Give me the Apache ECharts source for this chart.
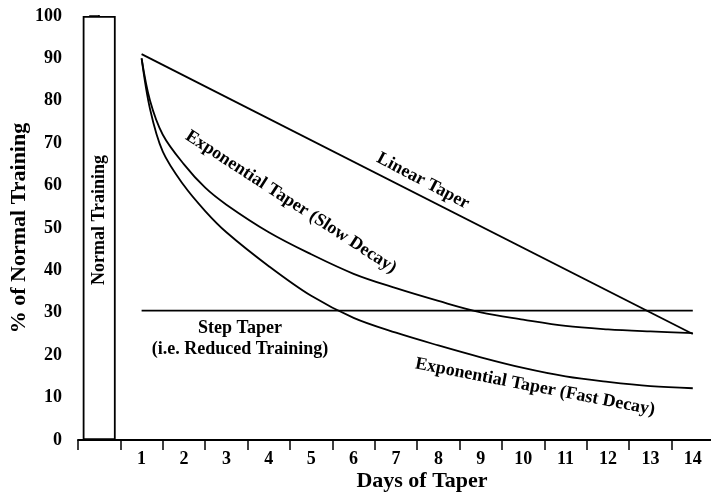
<!DOCTYPE html>
<html><head><meta charset="utf-8">
<script src="https://cdn.jsdelivr.net/npm/echarts@6/dist/echarts.min.js"></script>
<style>html,body{margin:0;padding:0;background:#fff}#c{width:711px;height:494px}</style>
</head><body><div id="c"></div>
<script>
// ---- data ----
const categories = ['', '1', '2', '3', '4', '5', '6', '7', '8', '9', '10', '11', '12', '13', '14'];
const normalTraining = [100];
const linearDays  = [1, 14];
const linearTaper = [91, 25];
const slowDays  = [1, 1.2, 1.5, 2, 2.5, 3, 4, 5, 6, 7, 8, 9, 10, 11, 12, 13, 14];
const slowDecay = [90, 80, 72, 65, 59.5, 55.5, 49, 43.8, 39.2, 35.8, 32.8, 30.1, 28.4, 26.9, 26.1, 25.6, 25.2];
const fastDays  = [1, 1.2, 1.5, 2, 2.5, 3, 4, 5, 6, 7, 8, 9, 10, 11, 12, 13, 14];
const fastDecay = [90, 78, 68, 60, 54, 49, 41, 34, 28.8, 25.3, 22.3, 19.5, 17, 15, 13.7, 12.7, 12.2];
const stepDays  = [1, 14];
const stepTaper = [30.5, 30.5];
const yMin = 0, yMax = 100, yStep = 10;

const FONT = "'Liberation Serif', 'Times New Roman', serif";
const pairs = (xs, ys) => xs.map((x, i) => [x, ys[i]]);
const lineSeries = (name, xs, ys, smooth) => ({
  name, type: 'line', xAxisIndex: 1, data: pairs(xs, ys), smooth: smooth,
  showSymbol: false, symbol: 'none',
  lineStyle: { color: '#000', width: 1.8 }, z: 3, silent: true
});
const txt = (text, x, y, deg) => ({
  type: 'text', x, y, rotation: -deg * Math.PI / 180, z: 10,
  style: { text, x: 0, y: 0, align: 'center', verticalAlign: 'middle', textAlign: 'center', textVerticalAlign: 'middle',
           font: "bold 18px " + FONT, fill: '#000' }
});

const chart = echarts.init(document.getElementById('c'), null, { renderer: 'canvas' });
chart.setOption({
  animation: false,
  backgroundColor: '#fff',
  grid: { left: 78, top: 16, bottom: 54, right: -3, containLabel: false, outerBoundsMode: 'none' },
  xAxis: [{
    type: 'category', data: categories, boundaryGap: true,
    axisLine: { show: true, lineStyle: { color: '#000', width: 2 } },
    axisTick: { show: true, inside: false, length: 10, lineStyle: { color: '#000', width: 1.5 } },
    axisLabel: { color: '#000', fontFamily: FONT, fontWeight: 'bold', fontSize: 18, margin: 10, interval: 0 },
    name: 'Days of Taper', nameLocation: 'middle', nameGap: 30, nameMoveOverlap: false,
    nameTextStyle: { color: '#000', fontFamily: FONT, fontWeight: 'bold', fontSize: 22, padding: [0, 0, 0, 52] },
    splitLine: { show: false }
  }, {
    // hidden value axis aligned with category centres (category index = day)
    type: 'value', min: -0.5, max: 14.5, show: false, position: 'bottom'
  }],
  yAxis: {
    type: 'value', min: yMin, max: yMax, interval: yStep,
    axisLine: { show: true, lineStyle: { color: '#000', width: 2 } },
    axisTick: { show: true, inside: false, length: 10, lineStyle: { color: '#000', width: 1.5 } },
    axisLabel: { color: '#000', fontFamily: FONT, fontWeight: 'bold', fontSize: 18, margin: 16 },
    name: '% of Normal Training', nameLocation: 'middle', nameGap: 48, nameRotate: 90, nameMoveOverlap: false,
    nameTextStyle: { color: '#000', fontFamily: FONT, fontWeight: 'bold', fontSize: 22 },
    splitLine: { show: false }
  },
  series: [
    {
      name: 'Normal Training', type: 'bar', xAxisIndex: 0, data: normalTraining, barWidth: 33, silent: true,
      itemStyle: { color: '#fff', borderColor: '#000', borderWidth: 1.8 },
      label: { show: true, formatter: 'Normal Training', position: 'inside', rotate: 90, offset: [8, 0],
               color: '#000', fontFamily: FONT, fontWeight: 'bold', fontSize: 18 }
    },
    lineSeries('Linear Taper', linearDays, linearTaper, false),
    lineSeries('Exponential Taper (Slow Decay)', slowDays, slowDecay, 0.35),
    lineSeries('Exponential Taper (Fast Decay)', fastDays, fastDecay, 0.35),
    lineSeries('Step Taper', stepDays, stepTaper, false)
  ],
  graphic: [
    txt('Linear Taper', 423, 181, 28),
    txt('Exponential Taper (Slow Decay)', 291, 202, 33),
    txt('Exponential Taper (Fast Decay)', 535, 387, 11),
    txt('Step Taper', 240, 328, 0),
    txt('(i.e. Reduced Training)', 240, 349, 0)
  ]
});
</script></body></html>
